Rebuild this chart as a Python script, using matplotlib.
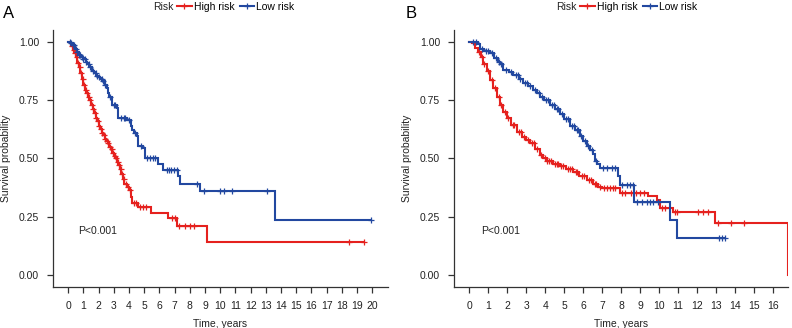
import numpy as np
import matplotlib.pyplot as plt
from matplotlib.lines import Line2D

plt.rcParams['font.family'] = ['Liberation Sans', 'DejaVu Sans']

# ---- Panel A: KM step knots (time in years, survival)
a_high_t = [0, 0.1, 0.2, 0.3, 0.4, 0.5, 0.6, 0.7, 0.8, 0.9, 1.0, 1.1, 1.2,
            1.3, 1.4, 1.5, 1.6, 1.7, 1.8, 1.9, 2.0, 2.1, 2.2, 2.3, 2.4, 2.5,
            2.6, 2.7, 2.8, 2.9, 3.0, 3.1, 3.2, 3.3, 3.4, 3.5, 3.6, 3.7, 3.85,
            4.0, 4.1, 4.17, 4.6, 5.45, 6.55, 7.15, 9.16, 19.45]
a_high_s = [1.0, 0.995, 0.98, 0.965, 0.95, 0.935, 0.91, 0.89, 0.865, 0.84,
            0.815, 0.795, 0.78, 0.765, 0.75, 0.73, 0.71, 0.695, 0.675, 0.66,
            0.64, 0.625, 0.61, 0.60, 0.585, 0.575, 0.565, 0.55, 0.54, 0.525,
            0.51, 0.50, 0.485, 0.47, 0.455, 0.435, 0.41, 0.39, 0.378, 0.365,
            0.335, 0.31, 0.29, 0.264, 0.245, 0.209, 0.14, 0.14]
a_high_cens = [0.25, 0.35, 0.45, 0.55, 0.65, 0.75, 0.85, 0.95, 1.05, 1.15,
               1.25, 1.35, 1.45, 1.55, 1.65, 1.75, 1.85, 1.95, 2.05, 2.15,
               2.25, 2.35, 2.45, 2.55, 2.65, 2.75, 2.85, 2.95, 3.05, 3.15,
               3.25, 3.35, 3.45, 3.55, 3.65, 3.78, 3.92, 4.05, 4.3, 4.45, 4.7,
               4.9, 5.1, 6.8, 7.0, 7.3, 7.65, 7.98, 8.3, 18.45, 19.45]

a_low_t = [0, 0.15, 0.3, 0.45, 0.55, 0.7, 0.85, 1.0, 1.15, 1.25, 1.4, 1.55,
           1.7, 1.85, 1.95, 2.1, 2.25, 2.4, 2.55, 2.62, 2.7, 2.85, 3.2, 3.3,
           3.85, 4.1, 4.2, 4.35, 4.5, 4.62, 4.94, 5.06, 5.93, 6.26, 7.2, 7.36,
           8.64, 13.58, 19.89]
a_low_s = [1.0, 0.995, 0.985, 0.97, 0.955, 0.945, 0.935, 0.925, 0.915, 0.905,
           0.89, 0.875, 0.865, 0.855, 0.85, 0.84, 0.83, 0.815, 0.80, 0.78,
           0.765, 0.73, 0.715, 0.675, 0.665, 0.64, 0.62, 0.61, 0.595, 0.552,
           0.545, 0.50, 0.474, 0.452, 0.423, 0.392, 0.359, 0.237, 0.237]
a_low_cens = [0.1, 0.2, 0.3, 0.4, 0.5, 0.6, 0.7, 0.8, 0.9, 1.0, 1.1, 1.2,
              1.35, 1.45, 1.6, 1.8, 1.9, 2.05, 2.2, 2.3, 2.45, 2.75, 3.0, 3.1,
              3.5, 3.65, 3.75, 4.0, 4.4, 4.8, 5.2, 5.4, 5.55, 5.7, 6.49, 6.64,
              6.79, 6.97, 7.15, 8.46, 8.9, 10.0, 10.26, 10.77, 13.08, 19.89]

# ---- Panel B
b_high_t = [0, 0.15, 0.3, 0.45, 0.6, 0.75, 0.92, 1.1, 1.26, 1.45, 1.62, 1.8,
            1.97, 2.2, 2.5, 2.8, 3.0, 3.2, 3.45, 3.72, 3.9, 4.07, 4.4, 4.77,
            5.1, 5.47, 5.8, 6.18, 6.5, 6.8, 7.0, 7.93, 9.42, 9.86, 10.04,
            10.74, 12.93, 16.76]
b_high_s = [1.0, 0.995, 0.975, 0.955, 0.935, 0.905, 0.873, 0.835, 0.80, 0.765,
            0.73, 0.70, 0.675, 0.645, 0.612, 0.59, 0.578, 0.565, 0.54, 0.515,
            0.50, 0.487, 0.475, 0.466, 0.455, 0.443, 0.425, 0.408, 0.39, 0.378,
            0.373, 0.352, 0.337, 0.322, 0.287, 0.268, 0.223, 0.0]
b_high_cens = [0.5, 0.7, 0.8, 1.0, 1.2, 1.35, 1.55, 1.7, 1.9, 2.05, 2.3, 2.35,
               2.6, 2.75, 2.9, 3.1, 3.3, 3.4, 3.55, 3.8, 4.0, 4.1, 4.2, 4.3,
               4.5, 4.6, 4.7, 4.85, 4.95, 5.2, 5.3, 5.4, 5.6, 5.7, 5.95, 6.05,
               6.3, 6.4, 6.6, 6.7, 6.9, 7.1, 7.25, 7.4, 7.55, 7.7, 8.05, 8.2,
               8.5, 8.8, 9.0, 9.2, 10.15, 10.3, 10.83, 10.92, 12.05, 12.32,
               12.58, 13.1, 13.8, 14.46]

b_low_t = [0, 0.47, 0.56, 0.8, 1.09, 1.3, 1.5, 1.62, 1.79, 2.1, 2.32, 2.6,
           2.84, 3.1, 3.37, 3.55, 3.72, 3.95, 4.25, 4.5, 4.77, 5.0, 5.3, 5.55,
           5.83, 6.0, 6.18, 6.35, 6.53, 6.62, 6.75, 6.88, 7.84, 7.93, 8.68,
           10.58, 10.92, 13.45]
b_low_s = [1.0, 0.988, 0.97, 0.96, 0.95, 0.93, 0.915, 0.905, 0.88, 0.868,
           0.858, 0.84, 0.823, 0.81, 0.795, 0.78, 0.765, 0.75, 0.73, 0.71,
           0.69, 0.67, 0.64, 0.62, 0.597, 0.575, 0.552, 0.535, 0.52, 0.49,
           0.475, 0.459, 0.423, 0.387, 0.315, 0.237, 0.158, 0.158]
b_low_cens = [0.2, 0.35, 0.65, 0.9, 1.0, 1.2, 1.4, 1.55, 1.7, 1.95, 2.2, 2.45,
              2.55, 2.7, 2.95, 3.05, 3.2, 3.45, 3.65, 3.85, 4.05, 4.15, 4.35,
              4.45, 4.6, 4.7, 4.9, 5.1, 5.2, 5.4, 5.5, 5.65, 5.75, 5.9, 6.1,
              6.25, 6.45, 6.7, 7.05, 7.26, 7.5, 7.67, 8.02, 8.28, 8.46, 8.63,
              8.81, 9.07, 9.34, 9.5, 9.68, 9.95, 13.14, 13.28, 13.45]

series_labels = ['High risk', 'Low risk']
RED = '#E5211E'
BLUE = '#2248A0'
GREY = '#333333'


def surv_at(times, surv, tc):
    """survival value of the step curve at the censor times"""
    idx = np.searchsorted(times, tc, side='right') - 1
    return np.array(surv)[idx]


def km_panel(ax, curves, xmax_tick, xlim):
    for t, s, cens, col in curves:
        ax.step(t, s, where='post', color=col, lw=1.5, solid_joinstyle='miter')
        ax.plot(cens, surv_at(np.array(t), s, np.array(cens)), ls='none',
                marker='+', ms=4.5, mew=0.9, color=col)
    ax.set_xlim(*xlim)
    ax.set_ylim(-0.05, 1.05)
    ax.set_xticks(np.arange(0, xmax_tick + 1))
    ax.set_yticks([0, 0.25, 0.5, 0.75, 1.0])
    ax.set_yticklabels(['0.00', '0.25', '0.50', '0.75', '1.00'])
    for sp in ['top', 'right']:
        ax.spines[sp].set_visible(False)
    for sp in ['left', 'bottom']:
        ax.spines[sp].set_color(GREY)
        ax.spines[sp].set_linewidth(0.9)
    ax.tick_params(colors=GREY, labelcolor='#222222', labelsize=7.5,
                   length=4, width=0.9, pad=6)
    ax.set_xlabel('Time, years', fontsize=7.5, color='#222222', labelpad=6)
    ax.set_ylabel('Survival probability', fontsize=7.5, color='#222222',
                  labelpad=6)
    ax.text(0.63, 0.19, 'P<0.001', fontsize=7.5, color='#222222',
            va='center', ha='left')


W, H = 792, 328
fig = plt.figure(figsize=(W / 100, H / 100), dpi=100)

axA = fig.add_axes([53 / W, (H - 286.7) / H, 334.5 / W, 256.7 / H])
km_panel(axA, [(a_high_t, a_high_s, a_high_cens, RED),
               (a_low_t, a_low_s, a_low_cens, BLUE)], 20, (-1, 21))

axB = fig.add_axes([454 / W, (H - 286.7) / H, 334 / W, 256.7 / H])
km_panel(axB, [(b_high_t, b_high_s, b_high_cens, RED),
               (b_low_t, b_low_s, b_low_cens, BLUE)], 16, (-0.8, 16.78))

# panel letters
fig.text(3 / W, 1 - 14 / H, 'A', fontsize=12, va='center', ha='left')
fig.text(406 / W, 1 - 14 / H, 'B', fontsize=12, va='center', ha='left')

# legends on top: "Risk" + two keys
handles = [Line2D([], [], color=c, lw=1.5, marker='+', ms=4.5, mew=0.9)
           for c in (RED, BLUE)]
for risk_x, leg_x in [(152.7, 177), (556, 580)]:
    fig.text(risk_x / W, 1 - 7 / H, 'Risk', fontsize=7.5, color='#222222',
             va='center', ha='left')
    fig.legend(handles, series_labels, loc='center left',
               bbox_to_anchor=(leg_x / W, 1 - 7 / H), ncol=2, frameon=False,
               fontsize=7.5, handlelength=1.4, handletextpad=0.2,
               columnspacing=0.5, borderpad=0, borderaxespad=0)

fig.savefig('out.png', dpi=100)
